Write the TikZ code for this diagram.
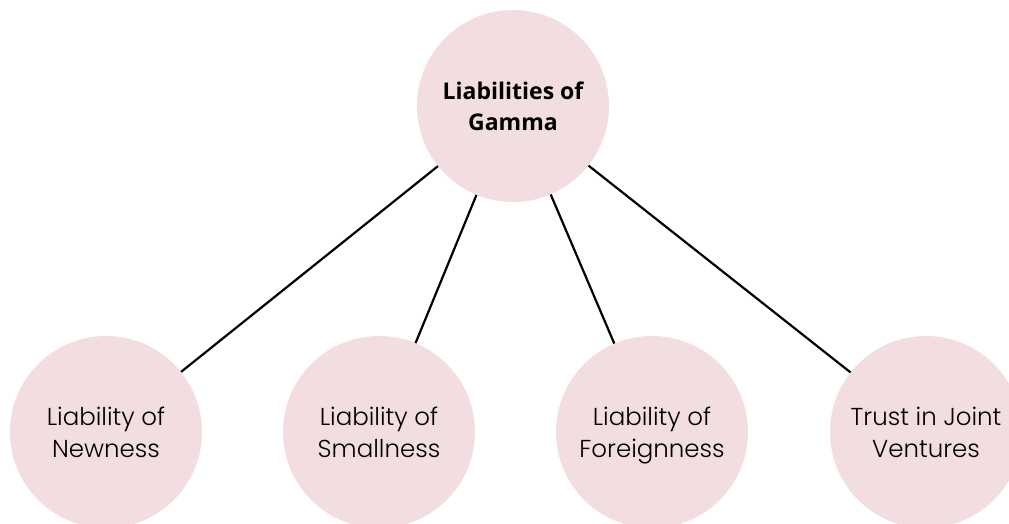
\documentclass[tikz,border=0pt]{standalone}
\usepackage{fontspec}
\setmainfont{Poppins}[UprightFont=* Light]
\newfontfamily\headfont{Open Sans}
\definecolor{blush}{RGB}{242,222,224}
\begin{document}
\begin{tikzpicture}[x=1pt,y=-1pt,
  bubble/.style={circle, fill=blush, minimum size=192pt, inner sep=0pt,
    align=center, text depth=0pt, font=\fontsize{24.5}{32}\selectfont},
  headbubble/.style={bubble, font=\headfont\bfseries\fontsize{23}{31}\selectfont},
  link/.style={line width=2.2pt, black}]
\useasboundingbox (0,0) rectangle (1009,523);
\clip (0,0) rectangle (1009,523);
% central topic
\node[headbubble] (root) at (513,106) {Liabilities of\\Gamma};
% four liabilities along the bottom
\node[bubble] (newness) at (106,432) {Liability of\\Newness};
\node[bubble] (small) at (379,432) {Liability of\\Smallness};
\node[bubble] (foreign) at (652,432) {Liability of\\Foreignness};
\node[bubble] (trust) at (926,432) {Trust in Joint\\Ventures};
% connectors
\draw[link] (root) -- (newness);
\draw[link] (root) -- (small);
\draw[link] (root) -- (foreign);
\draw[link] (root) -- (trust);
\end{tikzpicture}
\end{document}
